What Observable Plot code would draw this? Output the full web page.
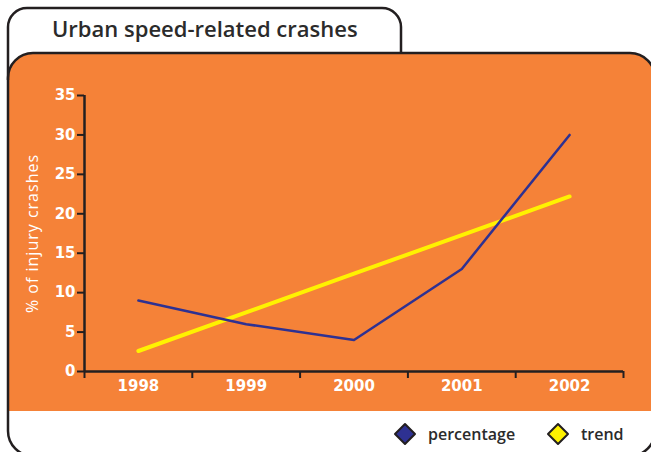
<!DOCTYPE html>
<html>
<head>
<meta charset="utf-8">
<script src="https://cdn.jsdelivr.net/npm/d3@7"></script>
<script src="https://cdn.jsdelivr.net/npm/@observablehq/plot@0.6"></script>
<style>
  html, body { margin: 0; padding: 0; background: #ffffff; }
  #wrap { position: relative; width: 651px; height: 452px; overflow: hidden; }
  #frame, #chart { position: absolute; left: 0; top: 0; }
  #chart g[aria-label="text"] text { letter-spacing: 1px; }
</style>
</head>
<body>
<div id="wrap">
  <svg id="frame" width="651" height="452"></svg>
  <div id="chart"></div>
</div>
<script>
// ---- data ----
const title = "Urban speed-related crashes";
const yLabel = "% of injury crashes";
const years = [1998, 1999, 2000, 2001, 2002];
const percentage = [9, 6, 4, 13, 30];
const trend = [2.6, 7.5, 12.4, 17.3, 22.2];
const yTicks = [0, 5, 10, 15, 20, 25, 30, 35];
const seriesNames = ["percentage", "trend"];
const seriesColors = ["#2E3192", "#FFF200"];

// ---- styling ----
const ink = "#231f20";
const orange = "#F58238";
const textDark = "#2b2b2b";

// ---- frame (decoration) ----
const f = d3.select("#frame");
f.append("path")
  .attr("d", "M8,80 V27 A19,19 0 0 1 27,8 H382 A19,19 0 0 1 401,27 V53 H8 Z")
  .attr("fill", "#fff");
f.append("rect").attr("x", 8).attr("y", 53).attr("width", 647).attr("height", 403)
  .attr("rx", 25).attr("fill", "#fff");
f.append("path")
  .attr("d", "M8,78 A25,25 0 0 1 33,53 H630 A25,25 0 0 1 655,78 V411 H8 Z")
  .attr("fill", orange);
f.append("rect").attr("x", 8).attr("y", 53).attr("width", 647).attr("height", 403)
  .attr("rx", 25).attr("fill", "none").attr("stroke", ink).attr("stroke-width", 2.5);
f.append("path")
  .attr("d", "M8,80 V27 A19,19 0 0 1 27,8 H382 A19,19 0 0 1 401,27 V53")
  .attr("fill", "none").attr("stroke", ink).attr("stroke-width", 2.5);
f.append("text").attr("x", 52).attr("y", 37)
  .attr("font-family", "'Open Sans', sans-serif").attr("font-weight", 600)
  .attr("font-size", 22).attr("fill", textDark).text(title);
const legendX = [405, 558];
seriesNames.forEach((name, i) => {
  const cx = legendX[i], cy = 434, r = 10;
  f.append("path")
    .attr("d", `M${cx},${cy - r} L${cx + r},${cy} L${cx},${cy + r} L${cx - r},${cy} Z`)
    .attr("fill", seriesColors[i]).attr("stroke", ink).attr("stroke-width", 2)
    .attr("stroke-linejoin", "round");
  f.append("text").attr("x", cx + 23).attr("y", cy + 5.5)
    .attr("font-family", "'Open Sans', sans-serif").attr("font-weight", 600)
    .attr("font-size", 16).attr("fill", textDark).text(name);
});

// ---- chart ----
const rows = years.flatMap((yr, i) => [
  { year: yr, value: trend[i], series: "trend" },
  { year: yr, value: percentage[i], series: "percentage" }
]);
const bounds = years.map(y => y - 0.5).concat([years[years.length - 1] + 0.5]);
const tickFont = "'DejaVu Sans', sans-serif";

const chart = Plot.plot({
  width: 651,
  height: 452,
  marginLeft: 84,
  marginRight: 28,
  marginTop: 95,
  marginBottom: 81,
  style: { background: "transparent", fontFamily: tickFont, overflow: "visible" },
  x: { type: "linear", domain: [bounds[0], bounds[bounds.length - 1]] },
  y: { domain: [0, 35] },
  marks: [
    Plot.axisX({ ticks: bounds, tickSize: 7, tickFormat: () => "", stroke: ink, strokeWidth: 2, label: null }),
    Plot.axisX({ ticks: years, tickSize: 0, tickPadding: 9, tickFormat: d => String(d),
      fill: "#fff", fontSize: 15, fontWeight: "bold", fontFamily: tickFont, label: null }),
    Plot.axisY({ ticks: yTicks, tickSize: 7, tickPadding: 2, stroke: ink, strokeWidth: 2,
      fill: "#fff", fontSize: 15, fontWeight: "bold", fontFamily: tickFont, label: null }),
    Plot.text([yLabel], { text: d => d, frameAnchor: "left", textAnchor: "middle", lineAnchor: "middle",
      rotate: -90, dx: -52, fill: "#fff", fontSize: 16, fontWeight: "normal",
      fontFamily: "'Open Sans', sans-serif" }),
    Plot.ruleY([0], { stroke: ink, strokeWidth: 2.5 }),
    Plot.ruleX([bounds[0]], { y1: 0, y2: 35, stroke: ink, strokeWidth: 2.5 }),
    Plot.line(rows.filter(d => d.series === "trend"),
      { x: "year", y: "value", stroke: seriesColors[1], strokeWidth: 4 }),
    Plot.line(rows.filter(d => d.series === "percentage"),
      { x: "year", y: "value", stroke: seriesColors[0], strokeWidth: 2.5 })
  ]
});
document.getElementById("chart").appendChild(chart);
</script>
</body>
</html>
